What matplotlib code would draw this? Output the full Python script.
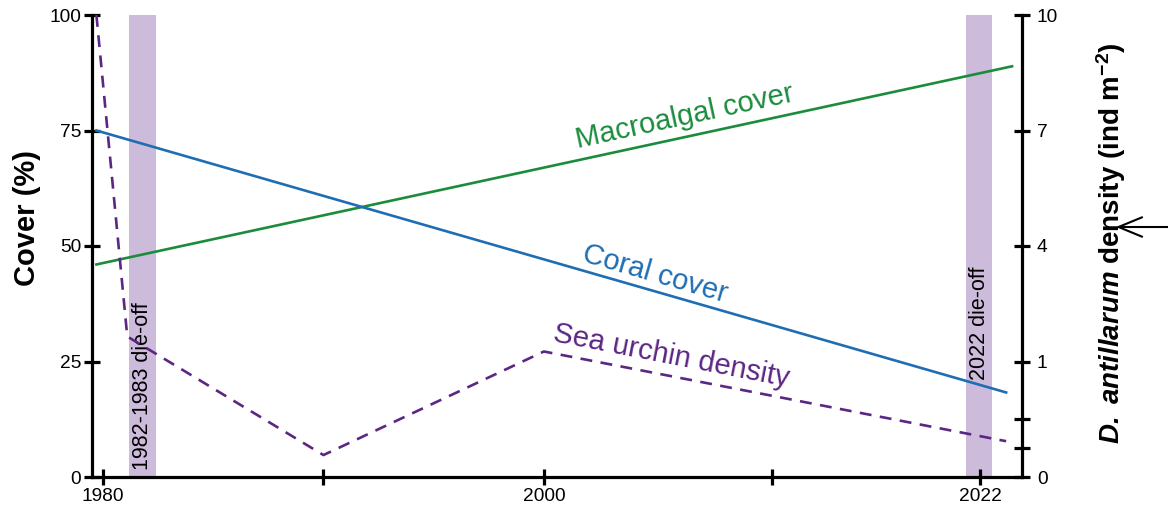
import numpy as np
import matplotlib
matplotlib.use("Agg")
import matplotlib.pyplot as plt

plt.rcParams['font.family'] = ['Liberation Sans', 'DejaVu Sans']
plt.rcParams['mathtext.fontset'] = 'custom'
plt.rcParams['mathtext.rm'] = 'Liberation Sans'
plt.rcParams['mathtext.bf'] = 'Liberation Sans:bold'
plt.rcParams['mathtext.it'] = 'Liberation Sans:italic'
try:
    plt.rcParams['mathtext.bfit'] = 'Liberation Sans:italic:bold'
except KeyError:
    pass

# ---------------- data ----------------
coral_years = [1979.7, 2023.3]
coral_cover = [75, 18.3]
macro_years = [1979.7, 2023.6]
macro_cover = [46, 88.9]
urchin_years = [1979.7, 1981.1, 1990, 2000, 2023.3]
urchin_density = [10, 1.65, 0.19, 1.26, 0.31]
dieoff_bands = [(1981.2, 1982.4), (2021.3, 2022.6)]
dieoff_labels = ["1982-1983 die-off", "2022 die-off"]
x_ticks = [1980, 1990, 2000, 2011.5, 2022]
x_ticklabels = ["1980", "", "2000", "", "2022"]
left_ticks = [0, 25, 50, 75, 100]
right_ticks = [0, 0.25, 0.5, 1, 4, 7, 10]
right_ticklabels = ["0", "", "", "1", "4", "7", "10"]

# schematic (non-linear) scales
yr_knots = [1960, 1980, 2000, 2022, 2040]
pos_knots = [1960, 1980, 2000, 2019.8, 2036]
def x_fwd(v):
    return np.interp(v, yr_knots, pos_knots)
def x_inv(v):
    return np.interp(v, pos_knots, yr_knots)

dens_knots = [0, 1, 4, 7, 10]
cov_knots = [0, 25, 50, 75, 100]
def d_fwd(v):
    return np.interp(v, dens_knots, cov_knots)
def d_inv(v):
    return np.interp(v, cov_knots, dens_knots)

GREEN = '#1a8c3c'
BLUE = '#1f6db3'
PURPLE = '#5b2684'
BAND = '#cdbbdb'

fig = plt.figure(figsize=(11.68, 5.08), dpi=100)
ax = fig.add_axes([92/1168, 31/508, 930/1168, 462/508])
ax.set_xscale('function', functions=(x_fwd, x_inv))
ax.set_xlim(1979.5, 2024.1)
ax.set_ylim(0, 100)

ax2 = ax.twinx()
ax2.set_yscale('function', functions=(d_fwd, d_inv))
ax2.set_ylim(0, 10)

for (a, b) in dieoff_bands:
    ax.axvspan(a, b, color=BAND, lw=0, zorder=0)

ax.plot(macro_years, macro_cover, color=GREEN, lw=1.9, zorder=3)
ax.plot(coral_years, coral_cover, color=BLUE, lw=1.9, zorder=3)
ax2.plot(urchin_years, urchin_density, color=PURPLE, lw=1.9,
         dashes=(4.5, 3.2), zorder=3)

# spines / ticks
for a in (ax, ax2):
    a.spines['top'].set_visible(False)
    for s in a.spines.values():
        s.set_linewidth(2.3)
ax.spines['right'].set_visible(False)
ax2.spines['left'].set_visible(False)
ax2.spines['bottom'].set_visible(False)

ax.set_xticks(x_ticks)
ax.set_xticklabels(x_ticklabels)
ax.xaxis.set_minor_locator(matplotlib.ticker.NullLocator())
ax.set_yticks(left_ticks)
ax.set_yticklabels([str(t) for t in left_ticks])
ax2.set_yticks(right_ticks)
ax2.set_yticklabels(right_ticklabels)
ax2.yaxis.set_minor_locator(matplotlib.ticker.NullLocator())
ax.tick_params(axis='both', direction='inout', length=11.5, width=2.3,
               labelsize=13.8, pad=2)
ax2.tick_params(axis='y', direction='inout', length=11.5, width=2.3,
                labelsize=13.8, pad=5)

ax.set_ylabel('Cover (%)', fontsize=21, fontweight='bold')
ax.yaxis.set_label_coords(-0.055, 0.56)

rlabel = r"$\mathbfit{D.}$ $\mathbfit{antillarum}$" + r" density (ind m$^{\mathbf{-2}}$)"
ax2.set_ylabel(rlabel, fontsize=20, fontweight='bold', rotation=90)
ax2.yaxis.set_label_coords(1.078, 0.505)

# rotation helper
def angle_of(a, xs, ys):
    p = a.transData.transform(np.column_stack([xs, ys]))
    return np.degrees(np.arctan2(p[-1, 1] - p[0, 1], p[-1, 0] - p[0, 0]))

ang_m = angle_of(ax, macro_years, macro_cover)
ang_c = angle_of(ax, coral_years, coral_cover)
ang_u = angle_of(ax2, urchin_years[3:], urchin_density[3:])

ax.text(2007.1, 78.0, 'Macroalgal cover', color=GREEN, fontsize=21,
        rotation=ang_m, rotation_mode='anchor', ha='center', va='center')
ax.text(2005.6, 44.0, 'Coral cover', color=BLUE, fontsize=21,
        rotation=ang_c, rotation_mode='anchor', ha='center', va='center')
ax.text(2006.4, 26.2, 'Sea urchin density', color=PURPLE, fontsize=21,
        rotation=ang_u, rotation_mode='anchor', ha='center', va='center')

ax.text(np.mean(dieoff_bands[0]), 19.6, dieoff_labels[0], rotation=90,
        fontsize=15.5, ha='center', va='center', color='black', zorder=4)
ax.text(np.mean(dieoff_bands[1]), 33.3, dieoff_labels[1], rotation=90,
        fontsize=15.5, ha='center', va='center', color='black', zorder=4)

# arrow at the right edge
fig.add_artist(matplotlib.patches.FancyArrowPatch(
    (1175 / 1168, 281 / 508), (1113 / 1168, 281 / 508),
    transform=fig.transFigure, arrowstyle='->,head_length=17,head_width=7',
    lw=1.5, color='black', mutation_scale=1))

fig.savefig('out.png', dpi=100)
